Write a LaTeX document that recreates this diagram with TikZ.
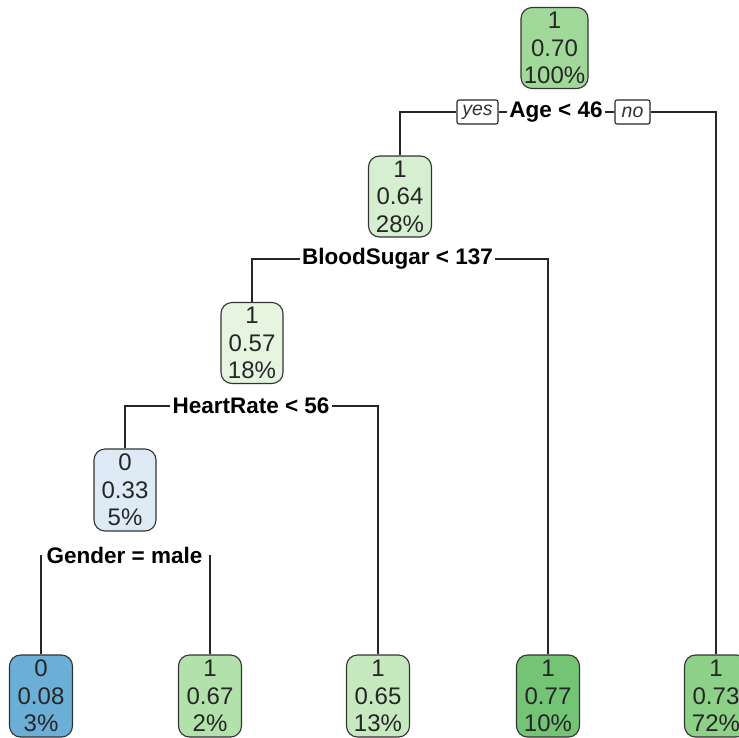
\documentclass[tikz,border=0pt]{standalone}
\usepackage{fontspec}
\setmainfont{Liberation Sans}
\definecolor{cRoot}{RGB}{161,217,155}
\definecolor{cN2}{RGB}{214,239,208}
\definecolor{cN3}{RGB}{229,245,224}
\definecolor{cN4}{RGB}{222,235,247}
\definecolor{cL1}{RGB}{107,174,214}
\definecolor{cL2}{RGB}{179,225,172}
\definecolor{cL3}{RGB}{199,233,192}
\definecolor{cL4}{RGB}{116,196,118}
\definecolor{cL5}{RGB}{141,208,135}
\begin{document}
\begin{tikzpicture}[x=1pt,y=-1pt,
  tnode/.style={draw=black!80, line width=1.1pt, rounded corners=11pt, minimum width=63pt, minimum height=82pt, inner sep=0pt, align=center, font=\fontsize{24}{27.5}\selectfont, text=black!85},
  split/.style={font=\bfseries\fontsize{22.5}{26}\selectfont, inner sep=2pt, text=black},
  yn/.style={draw=black!85, line width=1.1pt, fill=white, rounded corners=2pt, font=\itshape\fontsize{19.5}{22}\selectfont, text=black!80, minimum height=24pt, minimum width=35pt, inner xsep=3pt, inner ysep=0pt},
  edge/.style={draw=black!85, line width=1.3pt}]
\clip (0,0) rectangle (739,737);
\fill[white] (0,0) rectangle (739,737);
% nodes
\node[tnode, fill=cRoot, minimum width=67pt, minimum height=81pt] (root) at (554.5,48) {1\\0.70\\100\%};
\node[split] (age) at (556,112) {Age < 46};
\node[yn, minimum width=41pt] (yes) at (477.5,112) {yes};
\node[yn] (no) at (632.5,112) {no};
\node[tnode, fill=cN2, minimum height=81pt] (n2) at (400,196.5) {1\\0.64\\28\%};
\node[split] (bs) at (397.5,259) {BloodSugar < 137};
\node[tnode, fill=cN3, minimum width=62pt, minimum height=81pt] (n3) at (252,343) {1\\0.57\\18\%};
\node[split] (hr) at (251,406) {HeartRate < 56};
\node[tnode, fill=cN4, minimum width=62pt] (n4) at (125,490) {0\\0.33\\5\%};
\node[split] (gm) at (124.5,555) {Gender = male};
\node[tnode, fill=cL1] (l1) at (41,696) {0\\0.08\\3\%};
\node[tnode, fill=cL2] (l2) at (210,696) {1\\0.67\\2\%};
\node[tnode, fill=cL3] (l3) at (378,696) {1\\0.65\\13\%};
\node[tnode, fill=cL4] (l4) at (548,696) {1\\0.77\\10\%};
\node[tnode, fill=cL5] (l5) at (716,696) {1\\0.73\\72\%};
% connectors
\draw[edge] (n2.north) |- (yes.west);
\draw[edge] (yes.east) -- (age.west);
\draw[edge] (age.east) -- (no.west);
\draw[edge] (no.east) -| (l5.north);
\draw[edge] (n3.north) |- (bs.west);
\draw[edge] (bs.east) -| (l4.north);
\draw[edge] (n4.north) |- (hr.west);
\draw[edge] (hr.east) -| (l3.north);
\draw[edge] (gm.center -| l1.north) -- (l1.north);
\draw[edge] (gm.center -| l2.north) -- (l2.north);
\end{tikzpicture}
\end{document}
